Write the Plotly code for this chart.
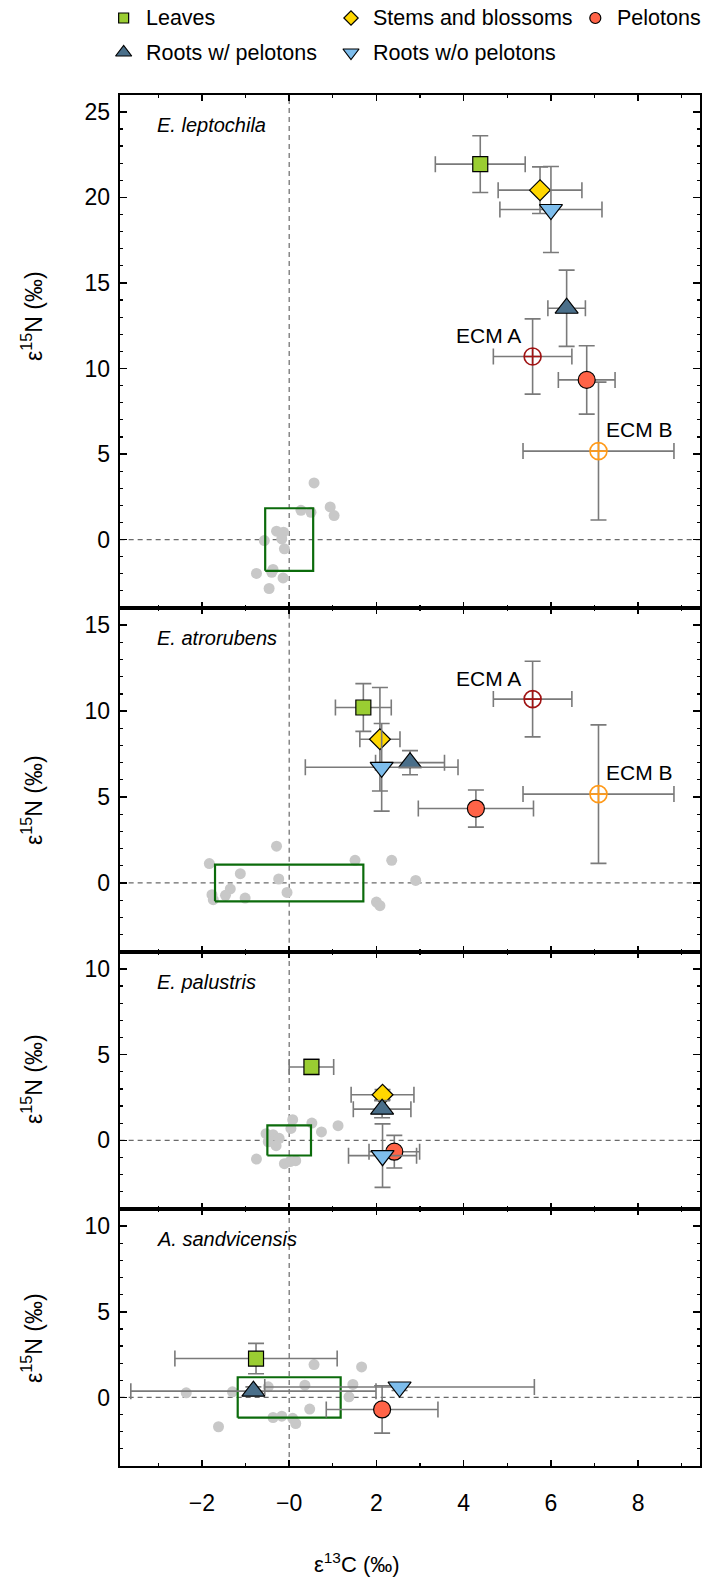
import plotly.graph_objects as go

# ---------------- data ----------------
species = ["E. leptochila", "E. atrorubens", "E. palustris", "A. sandvicensis"]

leaves_x = [4.38, 1.70, 0.51, -0.76]
leaves_x_sd = [1.03, 0.64, 0.51, 1.86]
leaves_y = [21.94, 10.21, 4.28, 2.27]
leaves_y_sd = [1.66, 1.39, 0.45, 0.89]

stems_x = [5.75, 2.08, 2.14, None]
stems_x_sd = [0.96, 0.46, 0.72, None]
stems_y = [20.42, 8.36, 2.66, None]
stems_y_sd = [1.36, 3.01, 0.30, None]

pelotons_x = [6.82, 4.28, 2.41, 2.13]
pelotons_x_sd = [0.65, 1.32, 0.58, 1.28]
pelotons_y = [9.33, 4.33, -0.66, -0.70]
pelotons_y_sd = [2.00, 1.08, 0.95, 1.38]

roots_w_x = [6.36, 2.77, 2.13, -0.82]
roots_w_x_sd = [0.43, 0.79, 0.66, 2.81]
roots_w_y = [13.52, 7.00, 1.82, 0.37]
roots_w_y_sd = [2.23, 0.70, 0.50, 0.25]

roots_wo_x = [6.00, 2.12, 2.14, 2.53]
roots_wo_x_sd = [1.17, 1.75, 0.78, 3.09]
roots_wo_y = [19.29, 6.73, -0.89, 0.61]
roots_wo_y_sd = [2.51, 2.55, 1.85, 0.20]

ecm_names = ["ECM A", "ECM B"]
ecm_x = [5.58, 7.09]
ecm_x_sd = [0.90, 1.73]
ecm_y = [10.70, 5.17]
ecm_y_sd = [2.20, 4.03]
ecm_panels = [0, 1]

ref_x_lep = [0.57, 0.27, 0.50, 0.94, 1.03, -0.29, -0.13, -0.57, -0.17, -0.11, -0.75, -0.37, -0.40, -0.14, -0.46]
ref_y_lep = [3.31, 1.71, 1.59, 1.91, 1.40, 0.49, 0.43, -0.06, 0.04, -0.54, -1.98, -1.75, -1.91, -2.24, -2.86]
ref_x_atr = [-0.29, -1.83, 1.51, 2.35, -1.12, -0.24, 2.90, -1.35, -1.46, -1.77, -1.74, -1.01, -0.05, 2.00, 2.08]
ref_y_atr = [2.14, 1.13, 1.32, 1.32, 0.54, 0.23, 0.15, -0.35, -0.72, -0.68, -0.97, -0.88, -0.55, -1.11, -1.32]
ref_x_pal = [0.08, 0.52, 1.12, 0.74, -0.53, -0.37, -0.23, 0.04, -0.48, -0.30, -0.75, -0.11, 0.02, 0.15]
ref_y_pal = [1.21, 1.01, 0.86, 0.49, 0.39, 0.33, 0.12, 0.70, -0.08, -0.31, -1.09, -1.36, -1.23, -1.18]
ref_x_san = [0.57, 1.66, -2.36, -1.30, -0.48, 0.36, 1.46, 1.37, 0.47, -0.37, -0.17, 0.08, 0.15, -1.62]
ref_y_san = [1.92, 1.78, 0.27, 0.33, 0.62, 0.72, 0.76, 0.04, -0.68, -1.17, -1.09, -1.22, -1.52, -1.71]
ref_x = [ref_x_lep, ref_x_atr, ref_x_pal, ref_x_san]
ref_y = [ref_y_lep, ref_y_atr, ref_y_pal, ref_y_san]

ref_sd_x = [0.55, 1.70, 0.50, 1.18]
ref_sd_y = [1.83, 1.07, 0.88, 1.18]

y_ranges = [[-4, 26], [-4, 16], [-4, 11], [-4, 11]]
x_range = [-3.886, 9.417]
x_tickvals = [-2, 0, 2, 4, 6, 8]
x_ticktext = ["\u22122", "\u22120", "2", "4", "6", "8"]

legend_labels = ["Leaves", "Stems and blossoms", "Pelotons", "Roots w/ pelotons", "Roots w/o pelotons"]

# ---------------- layout geometry (pixels) ----------------
W, H = 702, 1582
FONT = "Liberation Sans, Arial, Helvetica, sans-serif"
panel_top = [94.7, 608.0, 951.7, 1209.0]
panel_bot = [608.0, 951.7, 1209.0, 1466.0]
plot_left = 120.0

def py(p):
    return 1 - p / H

def px(p):
    return p / W

ERR = "#7a7a7a"

styles = {
    "leaves": dict(symbol="square", size=15, color="#9acd32"),
    "stems": dict(symbol="diamond", size=16, color="#ffd700"),
    "pelotons": dict(symbol="circle", size=17, color="#ff6347"),
    "roots_w": dict(symbol="triangle-up", size=20, color="#4a6f8a"),
    "roots_wo": dict(symbol="triangle-down", size=20, color="#7dbdec"),
}
ecm_colors = ["#a01414", "#ff9a1a"]

fig = go.Figure()


def ax(i):
    return ("x" if i == 0 else f"x{i+1}"), ("y" if i == 0 else f"y{i+1}")


def add_point(i, x, xs, y, ys, style, name):
    if x is None:
        return
    xa, ya = ax(i)
    fig.add_trace(go.Scatter(
        x=[x], y=[y], xaxis=xa, yaxis=ya, mode="markers", name=name, showlegend=False,
        marker=dict(symbol=style["symbol"], size=style["size"], color=style["color"],
                    line=dict(color="black", width=1.2)),
        error_x=dict(type="data", array=[xs], color=ERR, thickness=1.6, width=8),
        error_y=dict(type="data", array=[ys], color=ERR, thickness=1.6, width=8),
        cliponaxis=False,
    ))


for i in range(4):
    xa, ya = ax(i)
    # reference plants
    fig.add_trace(go.Scatter(
        x=ref_x[i], y=ref_y[i], xaxis=xa, yaxis=ya, mode="markers", showlegend=False,
        marker=dict(size=11, color="#c8c8c8"), name="reference"))
    # reference mean +- SD box
    sx, sy = ref_sd_x[i], ref_sd_y[i]
    fig.add_trace(go.Scatter(
        x=[-sx, sx, sx, -sx, -sx], y=[-sy, -sy, sy, sy, -sy], xaxis=xa, yaxis=ya,
        mode="lines", line=dict(color="#0b6b0b", width=2.2), showlegend=False, name="ref SD"))
    # ECM
    if i in ecm_panels:
        for k in range(2):
            fig.add_trace(go.Scatter(
                x=[ecm_x[k]], y=[ecm_y[k]], xaxis=xa, yaxis=ya, mode="markers",
                showlegend=False, name=ecm_names[k],
                marker=dict(symbol="circle-cross-open", size=17, color=ecm_colors[k],
                            line=dict(color=ecm_colors[k], width=1.6)),
                error_x=dict(type="data", array=[ecm_x_sd[k]], color=ERR, thickness=1.6, width=8),
                error_y=dict(type="data", array=[ecm_y_sd[k]], color=ERR, thickness=1.6, width=8),
            ))
        fig.add_annotation(x=ecm_x[0] - 0.21, y=ecm_y[0] + 1.2, xref=xa, yref=ya,
                           text=ecm_names[0], showarrow=False, xanchor="right", yanchor="middle",
                           font=dict(family=FONT, size=21, color="black"))
        fig.add_annotation(x=ecm_x[1] + 0.13, y=ecm_y[1] + 1.25, xref=xa, yref=ya,
                           text=ecm_names[1], showarrow=False, xanchor="left", yanchor="middle",
                           font=dict(family=FONT, size=21, color="black"))
    add_point(i, pelotons_x[i], pelotons_x_sd[i], pelotons_y[i], pelotons_y_sd[i], styles["pelotons"], "Pelotons")
    add_point(i, leaves_x[i], leaves_x_sd[i], leaves_y[i], leaves_y_sd[i], styles["leaves"], "Leaves")
    add_point(i, stems_x[i], stems_x_sd[i], stems_y[i], stems_y_sd[i], styles["stems"], "Stems and blossoms")
    add_point(i, roots_w_x[i], roots_w_x_sd[i], roots_w_y[i], roots_w_y_sd[i], styles["roots_w"], "Roots w/ pelotons")
    add_point(i, roots_wo_x[i], roots_wo_x_sd[i], roots_wo_y[i], roots_wo_y_sd[i], styles["roots_wo"], "Roots w/o pelotons")

    # dashed zero lines
    fig.add_shape(type="line", xref=xa, yref=f"{ya} domain", x0=0, x1=0, y0=0, y1=1,
                  line=dict(color="#6a6a6a", width=1.2, dash="5px,4px"), layer="below")
    fig.add_shape(type="line", xref=f"{xa} domain", yref=ya, x0=0, x1=1, y0=0, y1=0,
                  line=dict(color="#6a6a6a", width=1.2, dash="5px,4px"), layer="below")

    # species label
    fig.add_annotation(x=px(155), y=py(panel_top[i] + 30), xref="paper", yref="paper",
                       text=f"<i>{species[i]}</i>", showarrow=False, xanchor="left", yanchor="middle",
                       font=dict(family=FONT, size=20, color="black"))

    dom_y = [py(panel_bot[i]), py(panel_top[i])]
    xname = "xaxis" if i == 0 else f"xaxis{i+1}"
    yname = "yaxis" if i == 0 else f"yaxis{i+1}"
    fig.update_layout({
        xname: dict(domain=[px(plot_left), 1], range=x_range, anchor=ya,
                    showline=True, linewidth=2, linecolor="black", mirror="ticks",
                    ticks="inside", ticklen=6, tickwidth=1.6, tickcolor="black",
                    tickmode="array", tickvals=x_tickvals, ticktext=x_ticktext,
                    minor=dict(ticks="inside", ticklen=3, tickwidth=1.2, tickcolor="black",
                               tickmode="linear", tick0=1, dtick=2),
                    showgrid=False, zeroline=False, showticklabels=(i == 3),
                    tickfont=dict(family=FONT, size=23, color="black"),
                    ticklabelstandoff=15),
        yname: dict(domain=dom_y, range=y_ranges[i], anchor=xa,
                    showline=True, linewidth=2, linecolor="black", mirror="ticks",
                    ticks="inside", ticklen=7, tickwidth=1.6, tickcolor="black",
                    tickmode="linear", tick0=0, dtick=5,
                    minor=dict(ticks="inside", ticklen=3.5, tickwidth=1.2, tickcolor="black",
                               tickmode="linear", tick0=0, dtick=1),
                    showgrid=False, zeroline=False,
                    tickfont=dict(family=FONT, size=23, color="black"),
                    ticklabelstandoff=3),
    })

# y-axis titles
ytitle_centers = [316, 800, 1079, 1338]
for c in ytitle_centers:
    fig.add_annotation(x=px(32), y=py(c), xref="paper", yref="paper",
                       text="\u03b5<sup>15</sup>N (\u2030)", textangle=-90, showarrow=False,
                       xanchor="center", yanchor="middle",
                       font=dict(family=FONT, size=23, color="black"))

# x-axis title
fig.add_annotation(x=px(358), y=py(1563), xref="paper", yref="paper",
                   text="\u03b5<sup>13</sup>C (\u2030)", showarrow=False,
                   xanchor="center", yanchor="middle",
                   font=dict(family=FONT, size=22, color="black"))

# ---------------- legend (manual) ----------------
leg_keys = ["leaves", "stems", "pelotons", "roots_w", "roots_wo"]
leg_sizes = [10, 11, 11, 14, 14]
leg_mx = [124, 352, 597, 124, 352]
leg_my = [18, 18, 18, 52.5, 52.5]
for k, key in enumerate(leg_keys):
    st = styles[key]
    fig.add_trace(go.Scatter(
        x=[leg_mx[k]], y=[leg_my[k]], xaxis="x5", yaxis="y5", mode="markers",
        showlegend=False, name=legend_labels[k], cliponaxis=False,
        marker=dict(symbol=st["symbol"], size=leg_sizes[k], color=st["color"],
                    line=dict(color="black", width=1.2))))
    fig.add_annotation(x=leg_mx[k] + 20, y=leg_my[k], xref="x5", yref="y5",
                       text=legend_labels[k], showarrow=False, xanchor="left", yanchor="middle",
                       font=dict(family=FONT, size=21.5, color="black"))

fig.update_layout(
    xaxis5=dict(domain=[0, 1], range=[0, W], visible=False, anchor="y5"),
    yaxis5=dict(domain=[py(80), 1], range=[80, 0], visible=False, anchor="x5"),
)

fig.update_layout(
    width=W, height=H, margin=dict(l=0, r=0, t=0, b=0),
    paper_bgcolor="white", plot_bgcolor="white",
    showlegend=False, hovermode=False,
    font=dict(family=FONT, color="black"),
)

fig.write_html("out.html", config={"displayModeBar": False, "staticPlot": True},
               post_script="document.body.style.margin='0px';document.body.style.overflow='hidden';")
